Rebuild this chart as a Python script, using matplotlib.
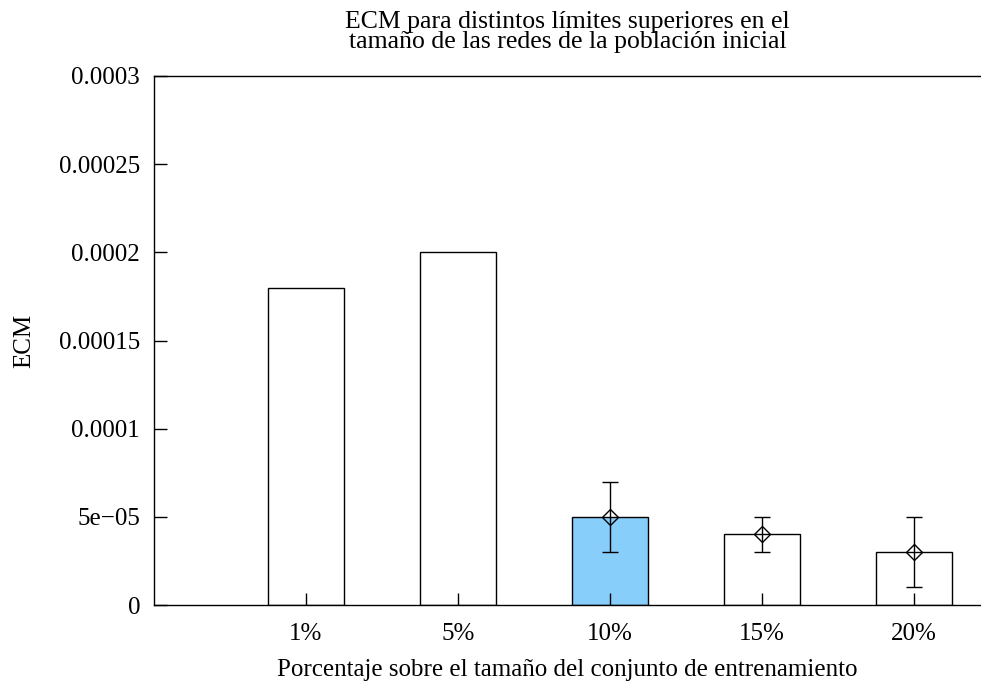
import matplotlib.pyplot as plt
import numpy as np

plt.rcParams['font.family'] = ['Liberation Serif', 'DejaVu Serif']

# Data
categories = ['1%', '5%', '10%', '15%', '20%']
ecm = [0.00018, 0.0002, 0.00005, 0.00004, 0.00003]
err_low = [None, None, 0.00003, 0.00003, 0.00001]
err_high = [None, None, 0.00007, 0.00005, 0.00005]
bar_colors = ['white', 'white', '#87cefa', 'white', 'white']

x = np.arange(1, len(categories) + 1)
fs = 18

fig = plt.figure(figsize=(9.81, 6.82), dpi=100)
ax = fig.add_axes([154 / 981, 77 / 682, 1 - 154 / 981, 529 / 682])

ax.bar(x, ecm, width=0.5, color=bar_colors, edgecolor='black', linewidth=1.0)

# error bars only where there is a spread
idx = [i for i in range(len(ecm)) if err_low[i] is not None]
xe = x[idx]
ye = np.array([ecm[i] for i in idx])
lo = ye - np.array([err_low[i] for i in idx])
hi = np.array([err_high[i] for i in idx]) - ye
ax.errorbar(xe, ye, yerr=[lo, hi], fmt='D', mfc='none', mec='black', ms=8,
            mew=1.0, ecolor='black', elinewidth=1.0, capsize=6, capthick=1.0)

ax.set_xlim(0, 5.44)
ax.set_ylim(0, 0.0003)
ax.set_xticks(x)
ax.set_xticklabels(categories)
ax.set_yticks([0, 0.00005, 0.0001, 0.00015, 0.0002, 0.00025, 0.0003])
ax.set_yticklabels(['0', '5e\u221205', '0.0001', '0.00015', '0.0002', '0.00025', '0.0003'])
ax.tick_params(axis='both', direction='in', length=9, width=1.0, labelsize=fs)
ax.tick_params(axis='x', pad=13)
ax.tick_params(axis='y', pad=10)
ax.spines['right'].set_visible(False)
for s in ['left', 'bottom', 'top']:
    ax.spines[s].set_linewidth(1.0)

ax.set_title('ECM para distintos límites superiores en el\ntamaño de las redes de la población inicial',
             fontsize=18.5, linespacing=0.88, pad=20)
ax.set_xlabel('Porcentaje sobre el tamaño del conjunto de entrenamiento', fontsize=fs, labelpad=10)
ax.set_ylabel('ECM', fontsize=fs, labelpad=17)

plt.savefig('out.png', dpi=100)
